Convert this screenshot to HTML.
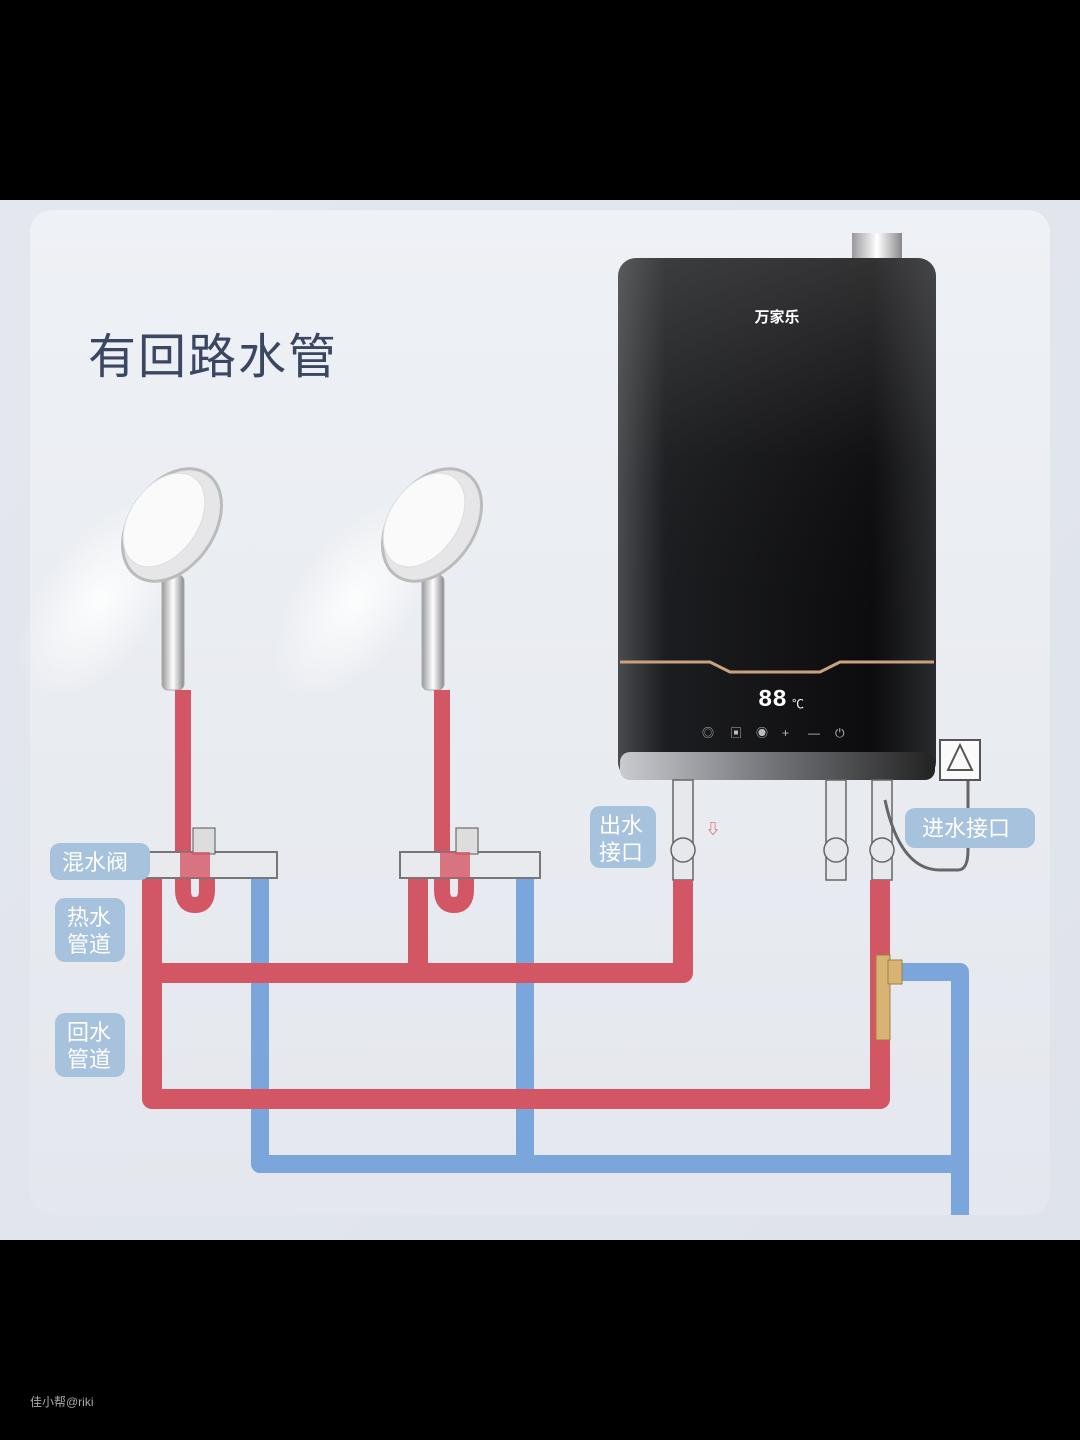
<!DOCTYPE html>
<html><head><meta charset="utf-8"><style>
body{margin:0;background:#000;width:1080px;height:1440px;overflow:hidden;font-family:"Liberation Sans","Noto Sans CJK SC",sans-serif}
</style></head><body>
<svg width="1080" height="1440" xmlns="http://www.w3.org/2000/svg" style="display:block">
<defs>
<linearGradient id="bg" x1="0" y1="0" x2="1" y2="1"><stop offset="0" stop-color="#e4e8ee"/><stop offset="1" stop-color="#dfe3ea"/></linearGradient>
<linearGradient id="card" x1="0" y1="0" x2="0" y2="1"><stop offset="0" stop-color="#eef1f5"/><stop offset="1" stop-color="#e4e7ed"/></linearGradient>
<linearGradient id="heat" x1="0" y1="0" x2="1" y2="0"><stop offset="0" stop-color="#4a4b4e"/><stop offset="0.15" stop-color="#1c1d20"/><stop offset="0.8" stop-color="#0c0c0e"/><stop offset="1" stop-color="#2a2b2e"/></linearGradient>
<linearGradient id="heatv" x1="0" y1="0" x2="0" y2="1"><stop offset="0" stop-color="#777" stop-opacity="0.35"/><stop offset="0.5" stop-color="#777" stop-opacity="0.05"/><stop offset="1" stop-color="#000" stop-opacity="0"/></linearGradient>
<linearGradient id="silver" x1="0" y1="0" x2="1" y2="0"><stop offset="0" stop-color="#c9cbd0"/><stop offset="0.5" stop-color="#6f7176"/><stop offset="1" stop-color="#222"/></linearGradient>
<linearGradient id="chrome" x1="0" y1="0" x2="1" y2="0"><stop offset="0" stop-color="#999"/><stop offset="0.5" stop-color="#fff"/><stop offset="1" stop-color="#888"/></linearGradient>
<radialGradient id="spray"><stop offset="0" stop-color="#fff" stop-opacity="0.9"/><stop offset="1" stop-color="#fff" stop-opacity="0"/></radialGradient>
</defs>
<rect x="0" y="200" width="1080" height="1040" fill="url(#bg)"/>
<rect x="30" y="210" width="1020" height="1005" rx="22" fill="url(#card)"/>
<text x="88" y="373" font-size="48" fill="#3b4762" letter-spacing="2">有回路水管</text>

<ellipse cx="100" cy="600" rx="60" ry="115" transform="rotate(35 100 600)" fill="url(#spray)"/>
<ellipse cx="355" cy="600" rx="60" ry="115" transform="rotate(35 355 600)" fill="url(#spray)"/>
<g>
<rect x="162" y="575" width="22" height="115" rx="6" fill="url(#chrome)" stroke="#aaa"/>
<ellipse cx="172" cy="525" rx="42" ry="62" transform="rotate(35 172 525)" fill="#e6e6e8" stroke="#bbb" stroke-width="3"/>
<ellipse cx="164" cy="520" rx="34" ry="52" transform="rotate(35 164 520)" fill="#fafafa" stroke="#ddd"/>
<rect x="422" y="575" width="22" height="115" rx="6" fill="url(#chrome)" stroke="#aaa"/>
<ellipse cx="432" cy="525" rx="42" ry="62" transform="rotate(35 432 525)" fill="#e6e6e8" stroke="#bbb" stroke-width="3"/>
<ellipse cx="424" cy="520" rx="34" ry="52" transform="rotate(35 424 520)" fill="#fafafa" stroke="#ddd"/>
</g>

<rect x="852" y="233" width="50" height="30" fill="url(#chrome)"/>
<rect x="618" y="258" width="318" height="522" rx="18" fill="url(#heat)"/>
<rect x="618" y="258" width="318" height="400" rx="18" fill="url(#heatv)"/>
<text x="777" y="322" font-size="15" fill="#fff" text-anchor="middle" font-weight="bold">万家乐</text>
<path d="M620 662 L710 662 L730 672 L820 672 L840 662 L934 662" stroke="#c9a27e" stroke-width="3" fill="none"/>
<text x="758" y="706" font-size="24" fill="#fff" font-family="Liberation Mono,monospace" font-weight="bold">88</text>
<text x="792" y="708" font-size="12" fill="#fff">℃</text>
<g fill="#bbb" font-size="12"><text x="702" y="737">◎</text><text x="730" y="737">▣</text><text x="756" y="737">◉</text><text x="782" y="737">+</text><text x="808" y="737">—</text><text x="835" y="737">⏻</text></g>
<rect x="620" y="752" width="315" height="28" rx="10" fill="url(#silver)"/>
<g fill="#e6e8ec" stroke="#666" stroke-width="1.5">
<rect x="673" y="780" width="20" height="100"/><circle cx="683" cy="850" r="12"/>
<rect x="826" y="780" width="20" height="100"/><circle cx="836" cy="850" r="12"/>
<rect x="872" y="780" width="20" height="100"/><circle cx="882" cy="850" r="12"/>
</g>
<path d="M885 800 Q900 870 940 870 L958 870 Q968 870 968 850 L968 770" stroke="#666" stroke-width="3" fill="none"/>
<rect x="940" y="740" width="40" height="40" fill="#fafafa" stroke="#555" stroke-width="2"/>
<path d="M960 745 L972 770 L948 770 Z" fill="none" stroke="#555" stroke-width="2"/>
<text x="706" y="834" font-size="14" fill="#d44">⇩</text>

<g stroke="#7aa6dc" stroke-width="18" fill="none" stroke-linejoin="round">
<path d="M260 872 L260 1164 L960 1164"/>
<path d="M525 872 L525 1164"/>
<path d="M888 972 L960 972 L960 1215"/>
</g>
<g stroke="#d25664" stroke-width="20" fill="none" stroke-linejoin="round">
<path d="M683 880 L683 973 L152 973"/>
<path d="M152 870 L152 1099 L880 1099 L880 880"/>
<path d="M418 872 L418 973"/>
<path d="M183 690 L183 890 Q183 905 195 905 Q207 905 207 890 L207 860" stroke-width="16"/>
<path d="M442 690 L442 890 Q442 905 454 905 Q466 905 466 890 L466 860" stroke-width="16"/>
</g>
<rect x="876" y="955" width="14" height="85" fill="#d8b474" stroke="#a0803c"/>
<rect x="888" y="960" width="14" height="24" fill="#d8b474" stroke="#a0803c"/>
<rect x="140" y="852" width="137" height="26" fill="#e8eaee" stroke="#777" stroke-width="2"/>
<rect x="400" y="852" width="140" height="26" fill="#e8eaee" stroke="#777" stroke-width="2"/>
<rect x="193" y="828" width="22" height="26" fill="#ddd" stroke="#555"/>
<rect x="456" y="828" width="22" height="26" fill="#ddd" stroke="#555"/>
<rect x="180" y="852" width="30" height="26" fill="#d25664" opacity="0.8"/>
<rect x="440" y="852" width="30" height="26" fill="#d25664" opacity="0.8"/>

<g fill="#a7c2dc">
<rect x="50" y="843" width="100" height="37" rx="10"/>
<rect x="55" y="898" width="70" height="64" rx="10"/>
<rect x="55" y="1013" width="70" height="64" rx="10"/>
<rect x="590" y="806" width="66" height="62" rx="10"/>
<rect x="905" y="808" width="130" height="40" rx="10"/>
</g>
<g fill="#fff" font-size="22">
<text x="62" y="870">混水阀</text>
<text x="67" y="925">热水</text><text x="67" y="952">管道</text>
<text x="67" y="1040">回水</text><text x="67" y="1067">管道</text>
<text x="599" y="833">出水</text><text x="599" y="860">接口</text>
<text x="922" y="836">进水接口</text>
</g>
<text x="30" y="1406" font-size="12" fill="#aaa">佳小帮@riki</text>
</svg>
</body></html>
